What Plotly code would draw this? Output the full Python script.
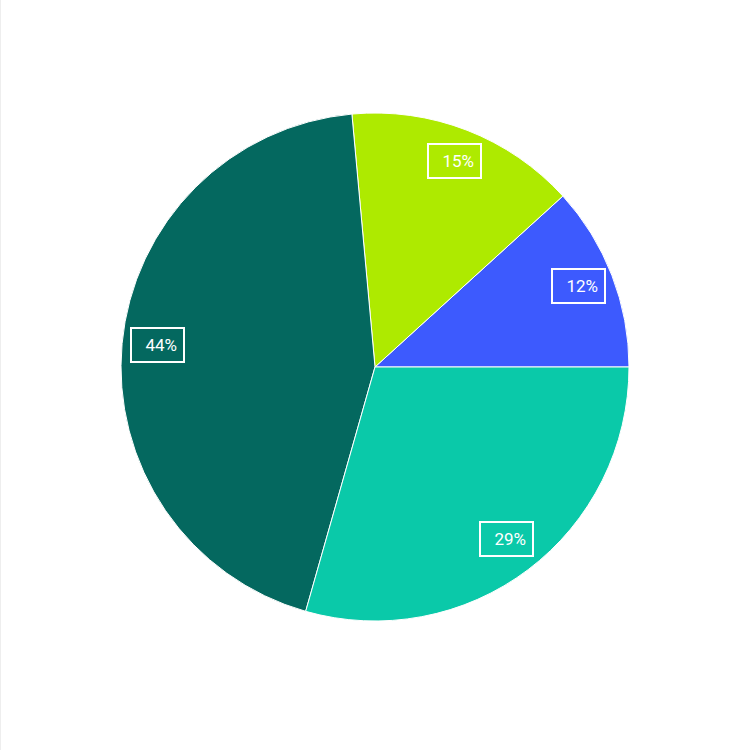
import math
import plotly.graph_objects as go

labels = ["A", "B", "C", "D"]
values = [11.75, 14.7, 44.15, 29.4]
colors = ["#3D5AFE", "#AEEA00", "#04685F", "#0AC9A9"]
pct_labels = ["12%", "15%", "44%", "29%"]

W, H = 750, 750
ML, MR, MT, MB = 121, 121, 113, 129

total = sum(values)
fig = go.Figure(go.Pie(
    labels=labels, values=values, sort=False,
    direction="counterclockwise", rotation=90 - values[0] / total * 360,
    marker=dict(colors=colors, line=dict(color="white", width=1)),
    textinfo="none", hoverinfo="label+percent", showlegend=False,
))

cum = 0
annotations = []
for v, t in zip(values, pct_labels):
    mid = (cum + v / 2) / total * 2 * math.pi
    cum += v
    r = 0.43
    annotations.append(dict(
        x=0.5 + r * math.cos(mid), y=0.5 + r * math.sin(mid) + 0.004,
        xref="paper", yref="paper", xanchor="center", yanchor="middle",
        text=t, showarrow=False,
        font=dict(family="Roboto", size=17, color="white"),
        bordercolor="white", borderwidth=2, borderpad=6,
        width=39, align="right",
    ))

pw = W - ML - MR
ph = H - MT - MB
fig.update_layout(
    width=W, height=H,
    margin=dict(l=ML, r=MR, t=MT, b=MB),
    paper_bgcolor="white", plot_bgcolor="white",
    annotations=annotations,
    shapes=[dict(type="line", xref="paper", yref="paper",
                 x0=(-ML + 0.5) / pw, x1=(-ML + 0.5) / pw,
                 y0=-MB / ph, y1=(ph + MT) / ph,
                 line=dict(color="#eeeeee", width=1))],
)
fig.write_html("out.html")
